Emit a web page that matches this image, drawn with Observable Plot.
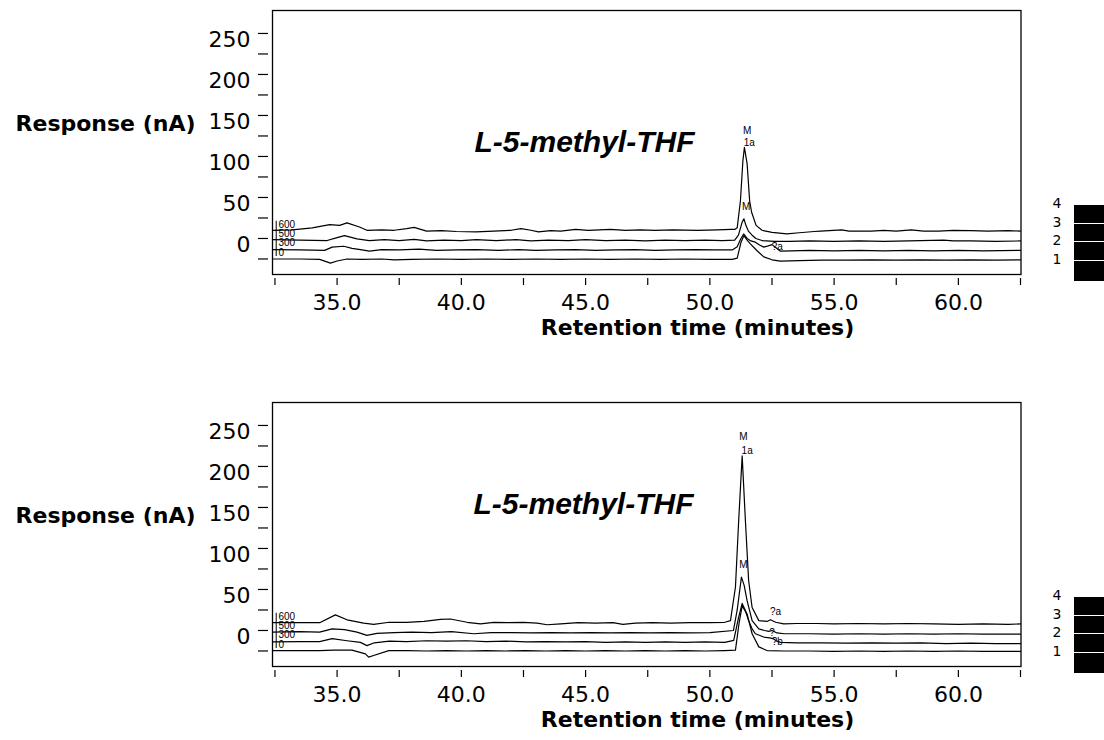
<!DOCTYPE html>
<html><head><meta charset="utf-8">
<script src="https://cdn.jsdelivr.net/npm/d3@7"></script>
<script src="https://cdn.jsdelivr.net/npm/@observablehq/plot@0.6"></script>
<style>
body{margin:0;background:#fff;}
#wrap{position:relative;width:1104px;height:740px;overflow:hidden;font-family:"DejaVu Sans",sans-serif;background:#fff;}
#wrap svg{display:block;}
.num{position:absolute;width:16px;text-align:center;font-size:14px;line-height:14px;color:#000;}
.box{position:absolute;width:32px;background:#000;}
</style></head><body><div id="wrap"></div>
<script>
// ---- axes ----
const xTicks = [32.5, 35, 37.5, 40, 42.5, 45, 47.5, 50, 52.5, 55, 57.5, 60, 62.5];
const xLabelTicks = [35, 40, 45, 50, 55, 60];
const yTicks = [-25, 0, 25, 50, 75, 100, 125, 150, 175, 200, 225, 250];
const yLabelTicks = [0, 50, 100, 150, 200, 250];
const xTitle = "Retention time (minutes)";
const yTitle = "Response (nA)";
const compound = "L-5-methyl-THF";
const traceNames = ["600", "500", "300", "0"];
const traceLabelY = [17, 5.5, -5.5, -17];
const legendLabels = ["4", "3", "2", "1"];

// ---- top panel traces [time (min), response (nA, offset)] ----
const a600 = [[32.4,10],[33.2,10.5],[34.0,13],[34.7,17],[35.1,16],[35.4,19],[35.9,14],[36.2,10],[36.8,10.5],[37.3,10],[37.8,12],[38.1,13.5],[38.6,9],[39.2,9.5],[39.8,8.5],[40.6,8],[41.3,9],[42.0,10],[42.4,12],[42.8,10],[43.1,8],[43.6,9.5],[44.0,9],[44.6,11],[45.1,10],[46.0,11],[46.6,10],[47.2,10.5],[47.8,10],[48.5,10.5],[49.5,10],[50.3,10.5],[50.85,11],[51.0,11],[51.1,13],[51.23,46],[51.33,95],[51.39,111],[51.5,91],[51.6,46],[51.68,32],[51.86,16],[52.1,10],[52.5,7.5],[53.1,5.5],[53.6,7],[54.2,8.5],[54.45,9],[54.8,9.5],[55.3,10.5],[55.6,9],[56.5,9],[57.0,10],[57.5,9],[58.1,10.5],[58.6,9],[59.2,9],[59.8,10],[60.5,9.5],[61.2,9],[62.0,9.5],[62.5,9]];
const a500 = [[32.4,-1.5],[33.5,-2],[34.6,-2.5],[35.0,1],[35.3,3.5],[35.8,-0.5],[36.3,-2.5],[36.9,-1.5],[37.5,-2.5],[38.1,-1],[38.6,-3],[39.3,-2],[40.0,-2.5],[40.6,-1.5],[41.4,-2.5],[42.2,-1.5],[42.8,-3],[43.5,-2],[44.3,-2.5],[45.0,-1.5],[45.8,-2.5],[46.6,-2],[47.4,-3],[48.2,-2],[49.0,-2.5],[49.8,-2],[50.5,-2.5],[51.0,-2],[51.15,4],[51.3,20],[51.37,24],[51.45,16],[51.55,9],[51.7,4],[51.85,0],[52.1,-2.5],[52.6,-3.5],[53.2,-3.5],[54.0,-3],[55.0,-3.5],[56.0,-3],[57.0,-3.5],[58.0,-3],[59.4,-2],[59.8,-3],[60.5,-3],[61.5,-3.5],[62.5,-3]];
const a300 = [[32.4,-13.5],[33.5,-14],[34.5,-14.5],[34.8,-10.5],[35.27,-9.5],[35.6,-12],[35.94,-13.5],[36.3,-15.5],[36.8,-13.5],[37.5,-14],[38.3,-13],[39.0,-14.5],[39.8,-14],[40.6,-13.5],[41.5,-14.5],[42.3,-13.5],[43.0,-14.5],[43.8,-14],[44.6,-13.5],[45.4,-14.5],[46.2,-14],[47.0,-13.5],[47.8,-14.5],[48.6,-14],[49.4,-13.5],[50.2,-14],[50.9,-14],[51.1,-10],[51.25,0],[51.36,5.5],[51.5,0],[51.65,-3],[51.83,-4.5],[52.0,-8],[52.17,-10.5],[52.35,-9],[52.5,-7.5],[52.65,-11],[52.84,-15.5],[53.3,-15],[54.0,-14.5],[55.0,-15],[56.0,-14.5],[57.0,-15],[58.0,-14.5],[59.0,-15],[60.0,-14.5],[61.0,-15],[62.5,-14.5]];
const a0 = [[32.4,-25],[33.5,-25],[34.3,-25.5],[34.73,-30],[35.0,-27.5],[35.4,-25],[36.0,-25.5],[36.8,-25],[37.3,-26],[38.0,-25.5],[39.0,-25],[40.0,-25.5],[41.0,-25],[42.0,-25.5],[43.0,-25],[44.0,-25.5],[45.0,-25],[46.0,-25.5],[47.0,-25],[48.0,-25.5],[49.0,-25],[50.0,-25.5],[50.9,-25.5],[51.1,-24],[51.25,-5],[51.37,3.5],[51.5,-2],[51.63,-6.5],[51.9,-15],[52.17,-22.5],[52.5,-26],[52.84,-27.5],[53.6,-27],[54.5,-26.5],[55.5,-26.5],[56.5,-26],[57.5,-26.5],[58.5,-26],[59.5,-26.5],[60.5,-26],[61.5,-26.5],[62.5,-26]];
const aPeakLabels = [
  {t: 51.50, v: 131.7, label: "M"}, {t: 51.59, v: 117, label: "1a"},
  {t: 51.46, v: 38.2, label: "M"}, {t: 52.71, v: -10.6, label: "?a"}
];

// ---- bottom panel traces ----
const b600 = [[32.4,9.5],[33.3,9.5],[34.3,9.5],[34.93,19],[35.4,13],[36.07,9],[36.47,7.5],[37.1,10],[37.8,10],[38.5,11],[39.16,13.5],[39.56,14],[40.23,10],[40.77,8],[41.3,10],[41.9,9.5],[42.5,10],[43.05,9],[43.45,7],[44.0,8],[44.7,9.5],[45.4,9],[46.1,9.5],[46.5,7.5],[47.0,9],[47.7,9.5],[48.4,9],[49.2,9.5],[50.0,9.5],[50.6,10],[50.83,12],[51.03,53],[51.16,134],[51.30,213],[51.43,134],[51.56,61],[51.70,28],[51.97,12],[52.3,11],[52.44,13],[52.65,10],[52.97,8],[53.5,8.5],[54.3,8.5],[55.0,8],[56.0,8.5],[57.0,8],[58.0,8.5],[59.0,8],[60.0,7.5],[61.0,8],[62.0,7.5],[62.5,8]];
const b500 = [[32.4,-2],[33.5,-1.5],[34.3,-2],[34.8,2],[35.3,1],[35.8,-2],[36.2,-6],[36.6,-3.5],[37.3,-2.5],[38.0,-2],[38.8,-2.5],[39.6,-1.5],[40.5,-4],[41.2,-2.5],[42.0,-2.5],[42.8,-3],[43.6,-2.5],[44.4,-3],[45.2,-2.5],[46.0,-3],[46.8,-2.5],[47.6,-3],[48.4,-2.5],[49.2,-3],[50.0,-2.5],[50.95,0],[51.1,25],[51.27,65],[51.38,55],[51.5,36],[51.7,12],[51.97,2],[52.2,0],[52.37,-1],[52.5,0],[52.7,-3],[53.0,-4],[54.0,-4],[55.0,-4.5],[56.0,-4],[57.0,-4.5],[58.0,-4],[59.0,-4.5],[60.0,-4],[61.0,-4.5],[62.5,-4.5]];
const b300 = [[32.4,-14],[33.5,-13.5],[34.3,-13.5],[34.8,-10],[35.4,-12.5],[35.94,-14.5],[36.2,-18.5],[36.5,-15],[37.1,-13],[37.8,-13.5],[38.6,-12.5],[39.4,-13],[40.2,-12.5],[41.0,-13.5],[41.8,-13],[42.6,-14],[43.4,-13.5],[44.2,-14],[45.0,-13.5],[45.8,-14.5],[46.6,-14],[47.4,-14.5],[48.2,-14],[49.0,-14.5],[49.8,-14],[50.6,-14.5],[50.96,-12],[51.15,15],[51.3,33],[51.42,25],[51.56,12],[51.7,2],[51.83,-4],[52.17,-8],[52.4,-9],[52.55,-10],[52.7,-13],[52.84,-14.5],[53.5,-15],[54.5,-15],[55.5,-15.5],[56.5,-15],[57.5,-15.5],[58.5,-15],[59.5,-16],[60.5,-15.5],[61.5,-16],[62.5,-16]];
const b0 = [[32.4,-24.5],[33.5,-24.5],[34.3,-24.5],[34.86,-24],[35.6,-24],[36.14,-28.5],[36.27,-32.5],[36.47,-30.5],[37.08,-24.5],[37.8,-24.5],[38.6,-25],[39.4,-24.5],[40.2,-25],[41.0,-24.5],[41.8,-25],[42.6,-24.5],[43.4,-25],[44.2,-24.5],[45.0,-25],[45.8,-24.5],[46.6,-25],[47.4,-24.5],[48.2,-25],[49.0,-24.5],[49.8,-25],[50.6,-24.5],[51.03,-24],[51.18,10],[51.3,30],[51.5,20],[51.7,-4],[51.97,-20],[52.3,-24.5],[53.0,-25],[54.0,-25],[55.0,-25.5],[56.0,-25],[57.0,-25.5],[58.0,-25],[59.0,-25.5],[60.0,-25],[61.0,-25.5],[62.5,-25.5]];
const bPeakLabels = [
  {t: 51.35, v: 235.7, label: "M"}, {t: 51.50, v: 218.7, label: "1a"},
  {t: 51.35, v: 80.5, label: "M"}, {t: 52.64, v: 22.3, label: "?a"},
  {t: 52.50, v: -3.3, label: "?"}, {t: 52.71, v: -14.3, label: "?b"}
];

const smallFont = '"Liberation Sans", Arial, sans-serif';

function panel(traces, peakLabels, height, marginBottom, thfDx, thfDy) {
  const rows = [];
  traceNames.forEach((name, i) => traces[i].forEach(([t, v]) => rows.push({trace: name, t, v})));
  const labelRows = traceNames.map((name, i) => ({name, v: traceLabelY[i]}));
  return Plot.plot({
    width: 1104, height,
    marginLeft: 268, marginRight: 83.5, marginTop: 10, marginBottom,
    x: {domain: [32.24, 62.52], label: null},
    y: {domain: [-48.8, 278], label: null},
    style: {fontFamily: '"DejaVu Sans", sans-serif', fontSize: "22px", color: "#000", background: "transparent", overflow: "visible"},
    marks: [
      Plot.frame({insetLeft: 4, insetBottom: 4, stroke: "#000", strokeWidth: 1.3}),
      Plot.axisX({ticks: xTicks, tickSize: 7, fill: "none", strokeWidth: 1.2, label: null}),
      Plot.axisX({ticks: xLabelTicks, tickSize: 0, tickPadding: 16, tickFormat: d => d.toFixed(1), fontSize: 22, label: null}),
      Plot.axisY({ticks: yTicks, tickSize: 10, fill: "none", strokeWidth: 1.2, label: null}),
      Plot.axisY({ticks: yLabelTicks, tickSize: 0, tickPadding: 18, dy: 6, fontSize: 22, label: null}),
      Plot.text([yTitle], {y: [150], frameAnchor: "left", dx: -73, dy: 8, textAnchor: "end", lineAnchor: "middle", fontWeight: "bold", fontSize: 22, fill: "#000"}),
      Plot.text([xTitle], {frameAnchor: "bottom", dx: 52.75, dy: 49, lineAnchor: "middle", textAnchor: "middle", fontWeight: "bold", fontSize: 22, fill: "#000"}),
      Plot.text([compound], {frameAnchor: "top-left", dx: thfDx, dy: thfDy, textAnchor: "start", lineAnchor: "middle", fontFamily: '"Liberation Sans", Arial, sans-serif', fontWeight: "bold", fontStyle: "italic", fontSize: 30, fill: "#000"}),
      Plot.line(rows, {x: "t", y: "v", z: "trace", stroke: "#000", strokeWidth: 1.2, curve: "linear"}),
      Plot.ruleX([32.55], {y1: d3.max(traceLabelY) + 4, y2: d3.min(traceLabelY) - 5, stroke: "#000", strokeWidth: 1}),
      Plot.text(labelRows, {y: "v", text: "name", frameAnchor: "left", dx: 10, textAnchor: "start", lineAnchor: "middle", fontSize: 10, fontFamily: smallFont, fill: "#000"}),
      Plot.text(peakLabels, {x: "t", y: "v", text: "label", fontSize: 10, fontFamily: smallFont, fill: "#000"})
    ]
  });
}

const wrap = document.getElementById("wrap");
wrap.appendChild(panel([a600, a500, a300, a0], aPeakLabels, 392, 114, 206, 132));
wrap.appendChild(panel([b600, b500, b300, b0], bPeakLabels, 348, 70, 205, 102));

function legend(top) {
  legendLabels.forEach((lab, i) => {
    const n = document.createElement("div");
    n.className = "num";
    n.textContent = lab;
    n.style.left = "1049px";
    n.style.top = (top - 9 + i * 18.7) + "px";
    wrap.appendChild(n);
    const b = document.createElement("div");
    b.className = "box";
    b.style.left = "1074px";
    b.style.top = (top + i * 18.7) + "px";
    b.style.height = (i === legendLabels.length - 1 ? 20 : 17.5) + "px";
    wrap.appendChild(b);
  });
}
legend(205);
legend(597);
</script></body></html>
